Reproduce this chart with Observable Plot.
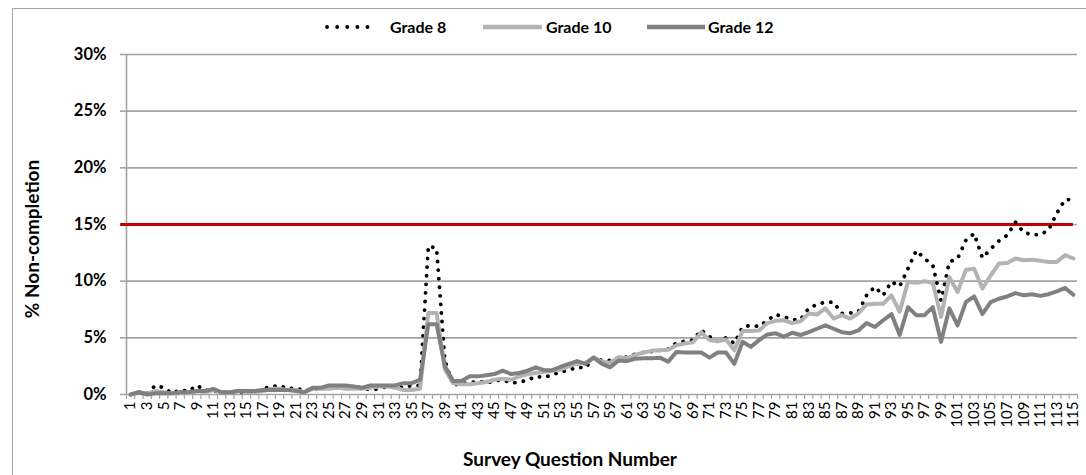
<!DOCTYPE html>
<html>
<head>
<meta charset="utf-8">
<script src="https://cdn.jsdelivr.net/npm/d3@7"></script>
<script src="https://cdn.jsdelivr.net/npm/@observablehq/plot@0.6"></script>
<style>
  body { margin: 0; background: #fff; font-family: Lato, "Open Sans", sans-serif; }
  #wrap { position: relative; width: 1086px; height: 475px; overflow: hidden; background: #fff; }
  #frame { position: absolute; left: 12px; top: 8px; width: 1100px; height: 500px; border: 1.5px solid #a6a6a6; box-sizing: border-box; }
  #legend { position: relative; height: 40px; }
  .sw { position: absolute; top: 21px; }
  .lt { position: absolute; top: 17px; font-weight: bold; font-size: 16px; line-height: 20px; color: #000; white-space: nowrap; }
  #chart { position: relative; }
</style>
</head>
<body>
<div id="wrap">
  <div id="frame"></div>
  <div id="legend"></div>
  <div id="chart"></div>
</div>
<script>
// ---- data (percent non-completion by survey question) ----
const seriesNames = ["Grade 8", "Grade 10", "Grade 12"];
const grade8 = [
  0.0,0.2,0.1,0.8,0.6,0.1,0.4,0.3,0.8,0.4,
  0.3,0.2,0.2,0.2,0.2,0.2,0.5,0.7,0.8,0.5,
  0.6,0.3,0.5,0.5,0.6,0.7,0.7,0.7,0.6,0.4,
  0.5,0.7,0.7,0.6,0.8,0.8,13.1,12.9,3.0,0.8,
  1.0,1.0,1.2,1.0,1.2,1.3,1.0,1.1,1.25,1.6,
  1.5,1.75,2.0,2.15,2.4,2.35,3.3,3.0,3.0,3.2,
  3.3,3.55,3.7,3.8,3.9,4.0,4.55,4.7,4.8,5.7,
  5.1,4.7,5.0,4.5,5.95,6.1,6.0,6.55,7.05,6.85,
  6.6,6.6,7.6,7.95,8.15,8.15,7.15,7.2,7.3,8.75,
  9.5,8.75,9.95,9.55,11.1,12.7,12.0,11.4,8.3,11.7,
  12.0,13.6,14.2,12.05,12.85,13.55,14.05,15.2,14.3,14.1,
  14.1,14.5,16.0,17.2,17.2
];
const grade10 = [
  0.0,0.2,0.1,0.3,0.2,0.1,0.2,0.1,0.3,0.2,
  0.4,0.2,0.2,0.3,0.2,0.2,0.3,0.5,0.5,0.4,
  0.4,0.2,0.5,0.5,0.5,0.6,0.5,0.5,0.5,0.6,
  0.7,0.7,0.6,0.4,0.4,0.5,7.2,7.2,2.2,1.0,
  0.9,0.9,1.0,1.1,1.3,1.4,1.3,1.6,1.8,1.9,
  2.0,2.1,2.2,2.5,2.7,2.8,3.25,2.9,2.8,3.3,
  3.2,3.5,3.7,3.85,3.9,3.95,4.35,4.5,4.6,5.5,
  4.8,4.7,4.85,3.9,5.6,5.6,5.65,6.3,6.5,6.55,
  6.3,6.45,7.15,7.05,7.6,6.7,7.0,6.7,7.15,7.95,
  8.0,8.0,8.75,7.3,9.95,9.85,10.0,9.85,6.85,10.35,
  9.05,11.0,11.1,9.35,10.5,11.55,11.6,12.0,11.85,11.9,
  11.8,11.7,11.7,12.3,12.0
];
const grade12 = [
  0.0,0.2,0.0,0.1,0.1,0.1,0.2,0.2,0.3,0.3,
  0.5,0.2,0.2,0.3,0.3,0.3,0.4,0.4,0.4,0.4,
  0.3,0.2,0.6,0.6,0.8,0.8,0.8,0.7,0.6,0.8,
  0.8,0.8,0.8,1.0,1.0,1.3,6.2,6.2,2.5,1.2,
  1.2,1.6,1.6,1.7,1.8,2.1,1.8,1.9,2.1,2.4,
  2.15,2.15,2.45,2.7,2.95,2.7,3.25,2.7,2.4,3.0,
  2.95,3.15,3.2,3.2,3.25,2.9,3.75,3.7,3.7,3.7,
  3.25,3.7,3.7,2.7,4.65,4.2,4.8,5.3,5.4,5.1,
  5.45,5.25,5.5,5.8,6.1,5.8,5.5,5.4,5.65,6.3,
  5.95,6.55,7.1,5.25,7.7,7.0,7.0,7.7,4.65,7.6,
  6.1,8.15,8.65,7.1,8.15,8.45,8.65,8.95,8.75,8.85,
  8.7,8.85,9.1,9.4,8.8
];
const threshold = 15;
const yTicks = [0, 5, 10, 15, 20, 25, 30];
const questions = grade8.map((_, i) => i + 1);
const xLabels = questions.filter(q => q % 2 === 1);

// ---- build ----
const colors = ["#000000", "#b3b3b3", "#808080"];
const rows = s => s.map((v, i) => ({q: questions[i], v}));

const gridColor = "#a3a3a3";
const chart = Plot.plot({
  width: 1086,
  height: 435,
  marginLeft: 126,
  marginRight: 9,
  marginTop: 14,
  marginBottom: 81,
  style: {fontFamily: "Lato, 'Open Sans', sans-serif", background: "transparent", color: "#000"},
  x: {type: "linear", domain: [0.5, questions.length + 0.5]},
  y: {domain: [0, 30]},
  marks: [
    Plot.ruleY(yTicks, {stroke: gridColor, strokeWidth: 1.6}),
    Plot.axisY({ticks: yTicks, tickSize: 6, tickPadding: 14, tickFormat: d => d + "%",
      stroke: gridColor, strokeWidth: 1.6, fontWeight: "bold", fontSize: 16.5, label: null}),
    Plot.axisX({ticks: [0.5, ...questions.map(q => q + 0.5)], tickSize: 5, tickFormat: () => "",
      stroke: gridColor, strokeWidth: 1.2, label: null}),
    Plot.axisX({ticks: xLabels, tickSize: 0, tickPadding: 7, tickRotate: -90, fontSize: 15, label: null}),
    Plot.ruleX([0.5], {stroke: gridColor, strokeWidth: 1.6}),
    Plot.ruleY([threshold], {x1: -0.2, x2: 115, stroke: "#c00000", strokeWidth: 3}),
    Plot.line(rows(grade8), {x: "q", y: "v", stroke: colors[0], strokeWidth: 3.8,
      strokeDasharray: "0.1 8.5", strokeLinecap: "round", strokeLinejoin: "round"}),
    Plot.line(rows(grade10), {x: "q", y: "v", stroke: colors[1], strokeWidth: 4, strokeLinejoin: "round"}),
    Plot.line(rows(grade12), {x: "q", y: "v", stroke: colors[2], strokeWidth: 4, strokeLinejoin: "round"})
  ]
});

const svg = d3.select(chart);
svg.append("text")
  .attr("transform", "translate(39,199) rotate(-90)")
  .attr("text-anchor", "middle")
  .attr("font-weight", "bold").attr("font-size", 19)
  .attr("fill", "#000")
  .text("% Non-completion");
svg.append("text")
  .attr("x", 570).attr("y", 426)
  .attr("text-anchor", "middle")
  .attr("font-weight", "bold").attr("font-size", 19)
  .attr("fill", "#000")
  .text("Survey Question Number");

document.getElementById("chart").appendChild(chart);

// ---- legend ----
const legend = d3.select("#legend");
const swatchX = [[327, 377], [483, 542], [647, 705]];
const labelX = [390, 546, 708];
seriesNames.forEach((name, i) => {
  const [a, b] = swatchX[i];
  const sw = legend.append("svg").attr("class", "sw")
    .style("left", (a - 3) + "px").attr("width", b - a + 6).attr("height", 12);
  const ln = sw.append("line").attr("x1", 3).attr("x2", b - a + 3).attr("y1", 6).attr("y2", 6)
    .attr("stroke", colors[i]).attr("stroke-width", i === 0 ? 3.8 : 4.5);
  if (i === 0) ln.attr("stroke-dasharray", "0.1 10").attr("stroke-linecap", "round");
  legend.append("div").attr("class", "lt").style("left", labelX[i] + "px").text(name);
});
</script>
</body>
</html>
